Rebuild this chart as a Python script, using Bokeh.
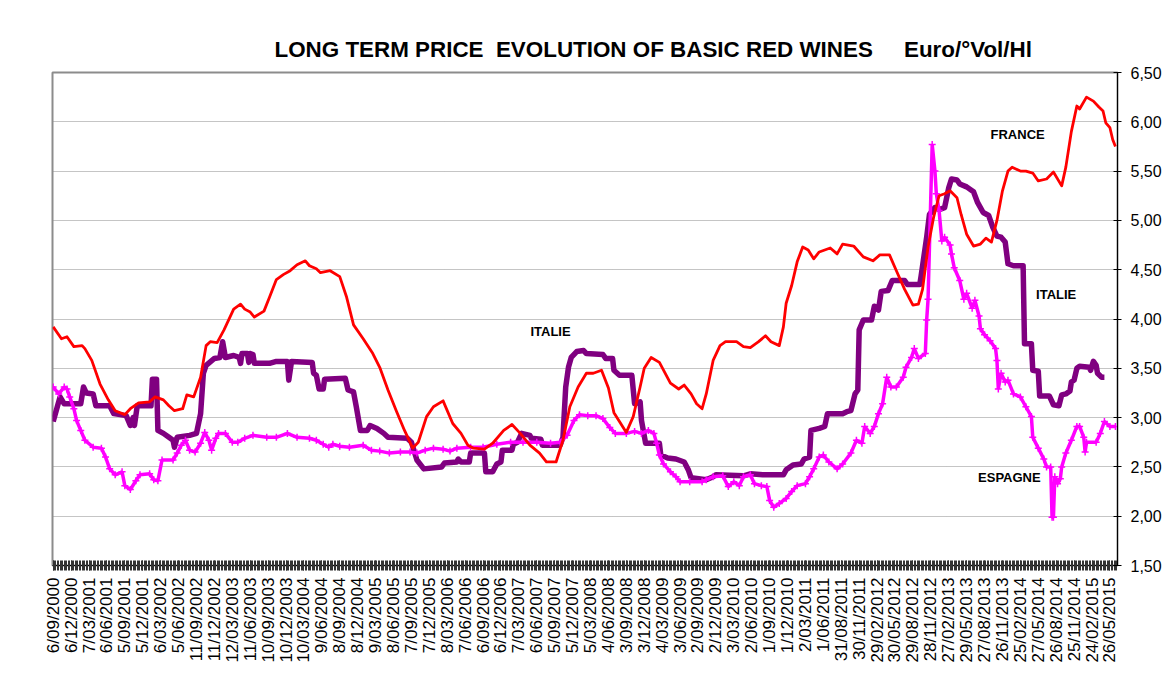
from bokeh.plotting import figure
from bokeh.models import FixedTicker, CustomJSTickFormatter, Label, Range1d
from bokeh.embed import file_html
from bokeh.resources import INLINE

# ---- data (x = week index since 6/09/2000) ----
x_labels = ["6/09/2000", "6/12/2000", "7/03/2001", "6/06/2001", "5/09/2001", "5/12/2001",
            "6/03/2002", "5/06/2002", "11/09/2002", "11/12/2002", "12/03/2003", "11/06/2003",
            "10/09/2003", "10/12/2003", "10/03/2004", "9/06/2004", "8/09/2004", "8/12/2004",
            "9/03/2005", "8/06/2005", "7/09/2005", "7/12/2005", "8/03/2006", "7/06/2006",
            "6/09/2006", "6/12/2006", "7/03/2007", "6/06/2007", "5/09/2007", "5/12/2007",
            "5/03/2008", "4/06/2008", "3/09/2008", "3/12/2008", "4/03/2009", "3/06/2009",
            "2/09/2009", "2/12/2009", "3/03/2010", "2/06/2010", "1/09/2010", "1/12/2010",
            "2/03/2011", "1/06/2011", "31/08/2011", "30/11/2011", "29/02/2012", "30/05/2012",
            "29/08/2012", "28/11/2012", "27/02/2013", "29/05/2013", "27/08/2013", "26/11/2013",
            "25/02/2014", "27/05/2014", "26/08/2014", "25/11/2014", "24/02/2015", "26/05/2015"]
y_ticks = [1.5, 2.0, 2.5, 3.0, 3.5, 4.0, 4.5, 5.0, 5.5, 6.0, 6.5]

france_week = [0, 6, 10, 15, 21, 23, 28, 34, 40, 45, 52, 56, 62, 70, 74, 80, 84, 88, 94, 97, 102, 107,
               111, 114, 119, 124, 131, 136, 139, 143, 146, 153, 157, 162, 167, 172, 177, 183, 186,
               191, 194, 201, 208, 213, 218, 225, 232, 237, 243, 249, 255, 261, 265, 271, 276, 283,
               290, 296, 301, 305, 313, 319, 327, 333, 339, 346, 353, 358, 365, 370, 375, 381, 387,
               392, 398, 403, 407, 411, 416, 421, 426, 429, 434, 440, 448, 454, 458, 463, 467, 471,
               474, 479, 484, 488, 496, 501, 506, 512, 517, 521, 527, 530, 532, 536, 540, 544, 548,
               552, 556, 564, 569, 573, 581, 588, 595, 600, 607, 612, 618, 624, 628, 631, 635, 639,
               643, 647, 651, 656, 659, 663, 668, 673, 677, 681, 685, 689, 693, 696, 702, 706, 711,
               715, 721, 726, 732, 735, 739, 743, 745, 750, 755, 759, 762, 764, 767, 769, 771]
france_val = [3.92, 3.80, 3.82, 3.72, 3.73, 3.70, 3.58, 3.34, 3.18, 3.07, 3.03, 3.09, 3.15, 3.16,
              3.21, 3.18, 3.12, 3.07, 3.09, 3.23, 3.21, 3.41, 3.73, 3.77, 3.76, 3.89, 4.10, 4.15,
              4.10, 4.07, 4.02, 4.08, 4.22, 4.40, 4.45, 4.49, 4.55, 4.59, 4.54, 4.51, 4.47, 4.49,
              4.43, 4.22, 3.94, 3.80, 3.65, 3.51, 3.28, 3.07, 2.87, 2.69, 2.75, 3.01, 3.11, 3.17,
              2.94, 2.84, 2.72, 2.69, 2.68, 2.74, 2.87, 2.93, 2.84, 2.72, 2.64, 2.55, 2.55, 2.77,
              3.11, 3.31, 3.45, 3.45, 3.48, 3.30, 3.05, 2.96, 2.85, 3.01, 3.31, 3.50, 3.61, 3.56,
              3.35, 3.29, 3.33, 3.24, 3.14, 3.09, 3.24, 3.58, 3.73, 3.77, 3.77, 3.72, 3.71, 3.77,
              3.83, 3.77, 3.73, 3.92, 4.16, 4.34, 4.58, 4.73, 4.70, 4.61, 4.68, 4.72, 4.66, 4.76,
              4.74, 4.63, 4.59, 4.65, 4.65, 4.49, 4.30, 4.14, 4.15, 4.30, 4.73, 5.03, 5.25, 5.27,
              5.30, 5.23, 5.06, 4.86, 4.74, 4.76, 4.82, 4.78, 5.00, 5.30, 5.50, 5.54, 5.50, 5.50,
              5.48, 5.40, 5.42, 5.49, 5.35, 5.54, 5.90, 6.16, 6.13, 6.25, 6.21, 6.15, 6.11, 5.99,
              5.94, 5.82, 5.75]

italie_week = [0, 3, 5, 8, 20, 22, 24, 29, 31, 41, 44, 53, 56, 58, 59, 61, 71, 72, 75, 76, 80, 84,
               87, 88, 90, 99, 104, 107, 109, 111, 117, 121, 123, 125, 131, 135, 136, 137, 141, 142,
               143, 145, 146, 157, 162, 170, 171, 173, 188, 189, 191, 193, 196, 197, 212, 214, 218,
               220, 223, 228, 230, 235, 240, 243, 257, 260, 264, 269, 282, 284, 293, 294, 296, 302,
               303, 313, 314, 319, 322, 325, 326, 333, 334, 337, 340, 346, 347, 354, 355, 368, 370,
               372, 374, 376, 380, 385, 387, 399, 401, 406, 407, 411, 420, 422, 426, 427, 430, 440,
               441, 446, 452, 458, 461, 463, 474, 479, 481, 501, 506, 515, 530, 532, 537, 543, 545,
               549, 550, 556, 560, 562, 573, 576, 579, 582, 584, 585, 588, 594, 596, 599, 601, 606,
               609, 618, 620, 629, 630, 634, 636, 640, 643, 647, 650, 652, 656, 658, 663, 668, 671,
               675, 679, 682, 685, 688, 691, 693, 697, 704, 705, 710, 711, 715, 716, 723, 726, 730,
               732, 735, 738, 739, 741, 743, 745, 752, 753, 755, 757, 758, 761, 763]
italie_val = [2.96, 3.11, 3.21, 3.14, 3.14, 3.31, 3.25, 3.24, 3.12, 3.12, 3.04, 3.02, 2.92, 3.00,
              2.92, 3.12, 3.12, 3.39, 3.39, 2.87, 2.84, 2.80, 2.77, 2.70, 2.80, 2.82, 2.84, 3.04,
              3.45, 3.53, 3.60, 3.61, 3.77, 3.61, 3.63, 3.61, 3.55, 3.65, 3.65, 3.56, 3.65, 3.64,
              3.55, 3.55, 3.57, 3.57, 3.38, 3.57, 3.56, 3.45, 3.43, 3.29, 3.29, 3.39, 3.40, 3.28,
              3.26, 3.11, 2.87, 2.87, 2.92, 2.89, 2.84, 2.80, 2.79, 2.75, 2.57, 2.48, 2.50, 2.54,
              2.55, 2.58, 2.55, 2.55, 2.64, 2.64, 2.45, 2.45, 2.53, 2.55, 2.67, 2.67, 2.73, 2.75,
              2.84, 2.82, 2.79, 2.78, 2.72, 2.72, 2.80, 3.31, 3.51, 3.61, 3.67, 3.68, 3.65, 3.64,
              3.60, 3.60, 3.48, 3.43, 3.43, 3.14, 3.16, 2.97, 2.74, 2.74, 2.62, 2.59, 2.58, 2.55,
              2.47, 2.39, 2.37, 2.40, 2.42, 2.41, 2.43, 2.42, 2.42, 2.47, 2.52, 2.53, 2.58, 2.60,
              2.87, 2.89, 2.91, 3.04, 3.04, 3.06, 3.07, 3.24, 3.28, 3.89, 3.99, 3.99, 4.13, 4.09,
              4.28, 4.29, 4.39, 4.39, 4.35, 4.35, 4.44, 4.83, 5.06, 5.13, 5.11, 5.13, 5.33, 5.42,
              5.41, 5.37, 5.34, 5.29, 5.18, 5.08, 5.05, 4.93, 4.84, 4.83, 4.78, 4.56, 4.54, 4.54,
              3.75, 3.75, 3.48, 3.47, 3.22, 3.22, 3.13, 3.12, 3.23, 3.24, 3.27, 3.36, 3.38, 3.50,
              3.52, 3.51, 3.48, 3.57, 3.53, 3.45, 3.41, 3.41]

espagne_week = [0, 4, 8, 10, 12, 15, 17, 20, 23, 29, 35, 38, 41, 45, 50, 52, 56, 60, 63, 70, 73,
                76, 79, 87, 90, 93, 96, 99, 103, 107, 110, 113, 115, 118, 120, 125, 130, 134, 139,
                145, 155, 162, 170, 177, 186, 191, 196, 200, 203, 208, 215, 225, 231, 237, 244,
                252, 259, 264, 270, 276, 283, 288, 293, 303, 312, 322, 332, 341, 351, 361, 368,
                373, 378, 382, 388, 394, 399, 404, 408, 416, 422, 427, 432, 436, 438, 440, 443,
                448, 452, 455, 462, 471, 474, 479, 486, 490, 494, 498, 501, 506, 509, 514, 518,
                520, 523, 527, 532, 536, 540, 546, 549, 552, 556, 559, 563, 569, 573, 579, 583,
                587, 589, 593, 596, 599, 602, 605, 608, 612, 617, 619, 623, 625, 628, 633, 634,
                635, 638, 640, 641, 643, 645, 647, 651, 652, 654, 658, 661, 663, 667, 669, 672,
                673, 676, 680, 684, 685, 686, 688, 691, 693, 697, 702, 706, 710, 711, 715, 719,
                721, 724, 725, 726, 727, 729, 731, 732, 735, 739, 743, 745, 748, 749, 750, 757,
                760, 763, 767, 771]
espagne_val = [3.31, 3.24, 3.31, 3.29, 3.21, 3.09, 2.97, 2.87, 2.77, 2.70, 2.69, 2.60, 2.48, 2.42,
               2.45, 2.31, 2.27, 2.36, 2.42, 2.43, 2.37, 2.36, 2.57, 2.57, 2.64, 2.72, 2.77, 2.67,
               2.65, 2.74, 2.85, 2.77, 2.67, 2.79, 2.84, 2.84, 2.75, 2.75, 2.79, 2.82, 2.80, 2.80,
               2.84, 2.80, 2.79, 2.77, 2.73, 2.70, 2.73, 2.71, 2.70, 2.72, 2.67, 2.66, 2.64, 2.65,
               2.65, 2.64, 2.67, 2.69, 2.68, 2.66, 2.69, 2.70, 2.70, 2.73, 2.75, 2.75, 2.75, 2.74,
               2.75, 2.82, 2.97, 3.03, 3.02, 3.02, 2.99, 2.90, 2.84, 2.84, 2.86, 2.84, 2.87, 2.84,
               2.74, 2.62, 2.53, 2.45, 2.40, 2.35, 2.35, 2.35, 2.37, 2.40, 2.41, 2.30, 2.35, 2.31,
               2.40, 2.42, 2.33, 2.31, 2.30, 2.16, 2.09, 2.13, 2.18, 2.25, 2.31, 2.33, 2.40, 2.48,
               2.60, 2.62, 2.55, 2.48, 2.53, 2.64, 2.77, 2.74, 2.91, 2.84, 2.91, 3.04, 3.14, 3.41,
               3.31, 3.31, 3.41, 3.51, 3.61, 3.70, 3.60, 3.65, 3.99, 4.20, 5.77, 5.50, 5.27, 5.10,
               4.79, 4.83, 4.75, 4.66, 4.52, 4.39, 4.20, 4.26, 4.11, 4.19, 4.03, 3.90, 3.84, 3.78,
               3.70, 3.58, 3.29, 3.45, 3.36, 3.38, 3.24, 3.21, 3.11, 3.01, 2.80, 2.69, 2.58, 2.50,
               2.50, 1.99, 1.99, 2.40, 2.33, 2.38, 2.50, 2.64, 2.77, 2.91, 2.91, 2.80, 2.65, 2.75,
               2.75, 2.84, 2.96, 2.91, 2.91, 2.85]

FONT = "Liberation Sans"
TITLE = "LONG TERM PRICE\u00a0 EVOLUTION OF BASIC RED WINES\u00a0\u00a0\u00a0\u00a0 Euro/°Vol/Hl"

p = figure(frame_width=1065, frame_height=493,
           x_range=Range1d(-0.5, 772.5), y_range=Range1d(1.5, 6.5),
           y_axis_location="right", output_backend="svg", toolbar_location=None,
           min_border_left=52, min_border_top=72, min_border_right=45, min_border_bottom=101,
           background_fill_color="white", border_fill_color="white",
           title=TITLE)

p.title.align = "left"
p.title.offset = 222
p.title.standoff = 21
p.title.text_font = FONT
p.title.text_font_style = "bold"
p.title.text_font_size = "22.4px"
p.title.text_color = "black"

p.outline_line_color = "#8c8c8c"
p.outline_line_width = 2
p.xgrid.visible = False
p.ygrid.grid_line_color = "#8a8a8a"
p.ygrid.grid_line_dash = "1 1"
p.ygrid.grid_line_width = 1

# x axis
xa = p.xaxis[0]
xa.ticker = FixedTicker(ticks=list(range(0, 13 * len(x_labels), 13)),
                        minor_ticks=list(range(0, 773)))
xa.formatter = CustomJSTickFormatter(args=dict(labels=x_labels), code="""
    const i = Math.round(tick / 13);
    return (i >= 0 && i < labels.length) ? labels[i] : '';
""")
xa.major_label_orientation = 1.5707963
xa.major_label_text_font = FONT
xa.major_label_text_font_size = "17px"
xa.major_label_text_color = "black"
xa.major_label_standoff = 7
xa.axis_line_color = "black"
xa.major_tick_line_color = "#222222"
xa.minor_tick_line_color = "#333333"
xa.major_tick_in = 5
xa.major_tick_out = 5
xa.minor_tick_in = 5
xa.minor_tick_out = 5

# y axis (right)
ya = p.yaxis[0]
ya.ticker = FixedTicker(ticks=y_ticks, minor_ticks=[])
ya.formatter = CustomJSTickFormatter(code="return tick.toFixed(2).replace('.', ',');")
ya.major_label_text_font = FONT
ya.major_label_text_font_size = "16px"
ya.major_label_text_color = "black"
ya.major_label_standoff = 9
ya.axis_line_color = "black"
ya.major_tick_line_color = "black"
ya.major_tick_in = 4
ya.major_tick_out = 4
ya.minor_tick_line_color = None

# series
p.line(italie_week, italie_val, line_color="#800080", line_width=5.5, line_join="round")
p.line(espagne_week, espagne_val, line_color="#FF00FF", line_width=3.5)
p.scatter(espagne_week, espagne_val, marker="cross", size=7, line_color="#FF00FF", line_width=1.5)
p.line(france_week, france_val, line_color="#FF0000", line_width=2.8, line_join="round")

# series labels
for (lx, ly, lt) in [(700, 5.87, "FRANCE"), (361, 3.87, "ITALIE"), (728, 4.25, "ITALIE"),
                     (694, 2.39, "ESPAGNE")]:
    p.add_layout(Label(x=lx, y=ly, text=lt, text_align="center", text_baseline="middle",
                       text_font=FONT, text_font_style="bold", text_font_size="13px",
                       text_color="black"))

open("out.html", "w").write(file_html(p, INLINE))
